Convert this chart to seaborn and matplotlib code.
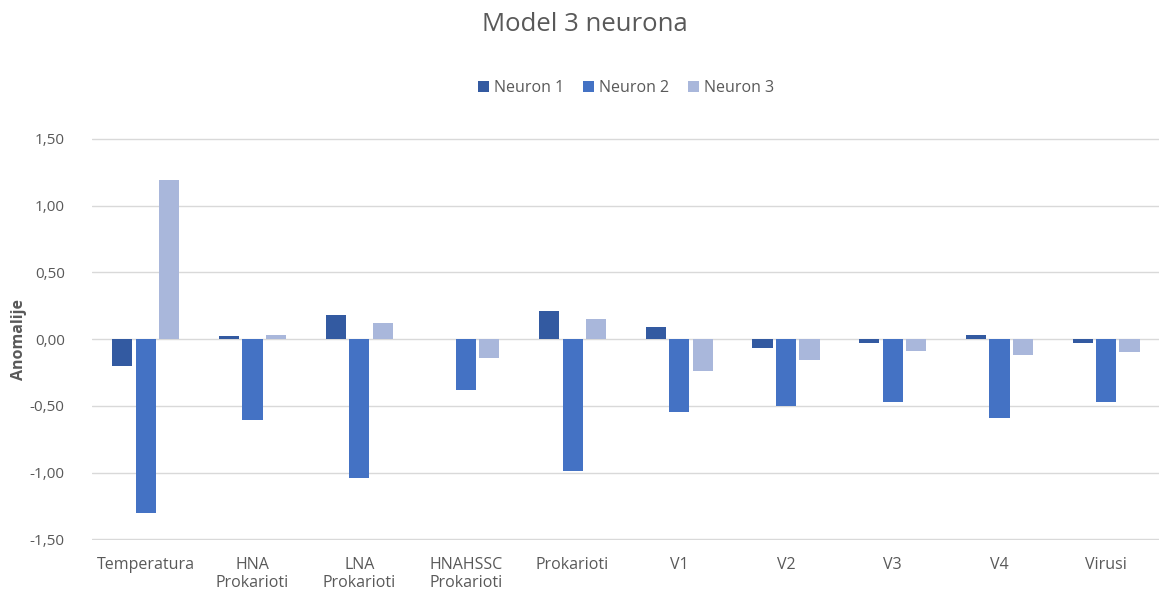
import numpy as np
import pandas as pd
import matplotlib
matplotlib.use("Agg")
import matplotlib.pyplot as plt
import seaborn as sns

# values
categories = ["Temperatura", "HNA\nProkarioti", "LNA\nProkarioti", "HNAHSSC\nProkarioti",
              "Prokarioti", "V1", "V2", "V3", "V4", "Virusi"]
neuron_1 = [-0.20, 0.02, 0.18, 0.00, 0.21, 0.09, -0.07, -0.03, 0.03, -0.03]
neuron_2 = [-1.30, -0.61, -1.04, -0.38, -0.99, -0.55, -0.50, -0.47, -0.59, -0.47]
neuron_3 = [1.19, 0.03, 0.12, -0.14, 0.15, -0.24, -0.16, -0.09, -0.12, -0.10]
series = ["Neuron 1", "Neuron 2", "Neuron 3"]
y_ticks = [-1.5, -1.0, -0.5, 0.0, 0.5, 1.0, 1.5]

df = pd.DataFrame({
    "kategorija": categories * 3,
    "vrijednost": neuron_1 + neuron_2 + neuron_3,
    "serija": [s for s in series for _ in categories],
})

sns.set_theme(style="white")
plt.rcParams["font.family"] = ["Open Sans", "DejaVu Sans"]
text_col = "#595959"

fig = plt.figure(figsize=(11.7, 6.06), dpi=100)
ax = fig.add_axes([0.079, 0.109, 0.912, 0.663])

palette = {"Neuron 1": "#335AA1", "Neuron 2": "#4472C4", "Neuron 3": "#A9B7DB"}
sns.barplot(data=df, x="kategorija", y="vrijednost", hue="serija", palette=palette,
            saturation=1, width=0.66, gap=0.14, linewidth=0, ax=ax, zorder=3)

ax.set_ylim(-1.505, 1.505)
ax.set_yticks(y_ticks)
ax.set_yticklabels([f"{v:.2f}".replace(".", ",") for v in y_ticks], color=text_col, fontsize=11)
ax.set_xticks(range(len(categories)))
ax.set_xticklabels(categories, color=text_col, fontsize=11.5)
ax.tick_params(axis="x", length=0, pad=12)
ax.tick_params(axis="y", length=0, pad=20)
ax.grid(axis="y", color="#D9D9D9", linewidth=1, zorder=0)
ax.set_axisbelow(True)
for s in ax.spines.values():
    s.set_visible(False)
ax.set_xlabel("")
ax.set_ylabel("Anomalije", color=text_col, fontsize=11.5, fontweight="bold", labelpad=2)
ax.set_xlim(-0.5, len(categories) - 0.5)

leg = ax.legend(loc="center", bbox_to_anchor=(0.5, 1.124), ncol=3, frameon=False,
                fontsize=11.5, handlelength=0.7, handleheight=0.7, columnspacing=1.2,
                handletextpad=0.3)
for t in leg.get_texts():
    t.set_color(text_col)

fig.suptitle("Model 3 neurona", y=0.98, fontsize=18.5, color=text_col)

fig.savefig("out.png", dpi=100)
